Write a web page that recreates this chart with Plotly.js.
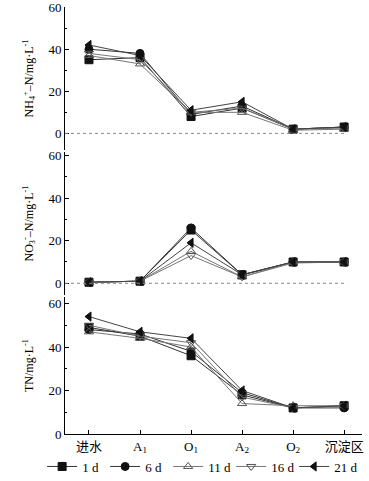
<!DOCTYPE html>
<html><head><meta charset="utf-8">
<script src="https://cdn.plot.ly/plotly-3.0.1.min.js"></script>
<style>html,body{margin:0;padding:0;background:#fff}#c{width:369px;height:481px}</style>
</head><body><div id="c"></div>
<script>
const categories = ['进水', 'A<sub>1</sub>', 'O<sub>1</sub>', 'A<sub>2</sub>', 'O<sub>2</sub>', '沉淀区'];
const seriesNames = ['1 d', '6 d', '11 d', '16 d', '21 d'];

const nh4_1d  = [35, 36, 8, 12, 2, 3];
const nh4_6d  = [40, 38, 9, 13, 2, 3];
const nh4_11d = [37, 33, 10, 10, 1.5, 2];
const nh4_16d = [38, 35, 10, 12, 2, 2.5];
const nh4_21d = [42, 37, 11, 15, 2, 3];

const no3_1d  = [0.5, 1, 25, 4, 10, 10];
const no3_6d  = [0.5, 1, 26, 4, 10, 10];
const no3_11d = [0.5, 1, 15, 3, 10, 10];
const no3_16d = [0.5, 1, 13, 3, 9.5, 10];
const no3_21d = [0.5, 1, 19, 4, 10, 10];

const tn_1d  = [49, 45, 36, 18, 12, 13];
const tn_6d  = [48, 46, 38, 19, 12, 12];
const tn_11d = [47, 44, 40, 14, 13, 13];
const tn_16d = [50, 45, 42, 17, 12, 13];
const tn_21d = [54, 47, 44, 20, 12, 13];

const xIdx = categories.map((_, i) => i);
const styles = [
  {symbol: 'square', color: '#111', fill: '#111', line: '#333'},
  {symbol: 'circle', color: '#111', fill: '#111', line: '#333'},
  {symbol: 'triangle-up-open', color: '#555', fill: '#555', line: '#777'},
  {symbol: 'triangle-down-open', color: '#555', fill: '#555', line: '#777'},
  {symbol: 'triangle-left', color: '#111', fill: '#111', line: '#444'}
];
const panels = [
  {data: [nh4_1d, nh4_6d, nh4_11d, nh4_16d, nh4_21d], xa: 'x', ya: 'y'},
  {data: [no3_1d, no3_6d, no3_11d, no3_16d, no3_21d], xa: 'x2', ya: 'y2'},
  {data: [tn_1d, tn_6d, tn_11d, tn_16d, tn_21d], xa: 'x3', ya: 'y3'}
];
const traces = [];
panels.forEach((p, pi) => {
  p.data.forEach((vals, si) => {
    const s = styles[si];
    traces.push({
      type: 'scatter', mode: 'lines+markers', x: xIdx, y: vals,
      xaxis: p.xa, yaxis: p.ya, name: seriesNames[si],
      legendgroup: seriesNames[si], showlegend: pi === 2,
      line: {color: s.line, width: 1},
      marker: {symbol: s.symbol, size: 8, color: s.fill, line: {color: s.color, width: 1}}
    });
  });
});

const F = 'Liberation Serif, Times New Roman, Noto Sans CJK SC, serif';
const yBase = {
  showline: true, linecolor: '#000', linewidth: 1, showgrid: false, zeroline: false,
  ticks: 'inside', ticklen: 4, tickcolor: '#000', tickvals: [0, 20, 40, 60],
  minor: {ticks: 'inside', ticklen: 2, dtick: 10, tickcolor: '#000'},
  tickfont: {family: F, size: 13, color: '#000'}, title: {font: {family: F, size: 12, color: '#000'}, standoff: 12},
  automargin: false, ticklabeloverflow: 'allow'
};
const xHidden = {range: [-0.47, 5.35], showline: false, showticklabels: false, ticks: '', showgrid: false, zeroline: false};
const layout = {
  width: 369, height: 481, margin: {l: 65, r: 7, t: 7, b: 47, autoexpand: false},
  paper_bgcolor: '#fff', plot_bgcolor: 'rgba(0,0,0,0)', font: {family: F, color: '#000'},
  xaxis: Object.assign({}, xHidden, {anchor: 'y'}),
  xaxis2: Object.assign({}, xHidden, {anchor: 'y2'}),
  xaxis3: {range: [-0.47, 5.35], anchor: 'y3', showline: true, linecolor: '#000', linewidth: 1,
    ticks: 'inside', ticklen: 4, tickcolor: '#000', tickvals: xIdx, ticktext: categories, automargin: false,
    showgrid: false, zeroline: false, tickfont: {family: F, size: 13, color: '#000'}, ticklabeloverflow: 'allow'},
  yaxis: Object.assign({}, yBase, {domain: [0.6651, 1], range: [-7.9, 60.05], anchor: 'x',
    title: Object.assign({}, yBase.title, {text: 'NH<sub>4</sub><sup>+</sup>–N/mg·L<sup>-1</sup>'})}),
  yaxis2: Object.assign({}, yBase, {domain: [0.3255, 0.6604], range: [-5.5, 61.6], anchor: 'x2',
    title: Object.assign({}, yBase.title, {text: 'NO<sub>3</sub><sup>-</sup>–N/mg·L<sup>-1</sup>'})}),
  yaxis3: Object.assign({}, yBase, {domain: [0, 0.3208], range: [0, 63], anchor: 'x3',
    title: Object.assign({}, yBase.title, {text: 'TN/mg·L<sup>-1</sup>'})}),
  shapes: [
    {type: 'line', xref: 'x domain', yref: 'y', x0: 0, x1: 0.95, y0: 0, y1: 0, line: {color: '#888', width: 1, dash: 'dot'}},
    {type: 'line', xref: 'x2 domain', yref: 'y2', x0: 0, x1: 0.95, y0: 0, y1: 0, line: {color: '#888', width: 1, dash: 'dot'}}
  ],
  legend: {orientation: 'h', x: -0.077, y: -0.041, xanchor: 'left', yanchor: 'top', bgcolor: 'rgba(0,0,0,0)',
    font: {family: F, size: 13, color: '#000'}, itemwidth: 30, tracegroupgap: 0, entrywidth: 18},
  showlegend: true
};
Plotly.newPlot('c', traces, layout, {displayModeBar: false, staticPlot: true});
</script></body></html>
